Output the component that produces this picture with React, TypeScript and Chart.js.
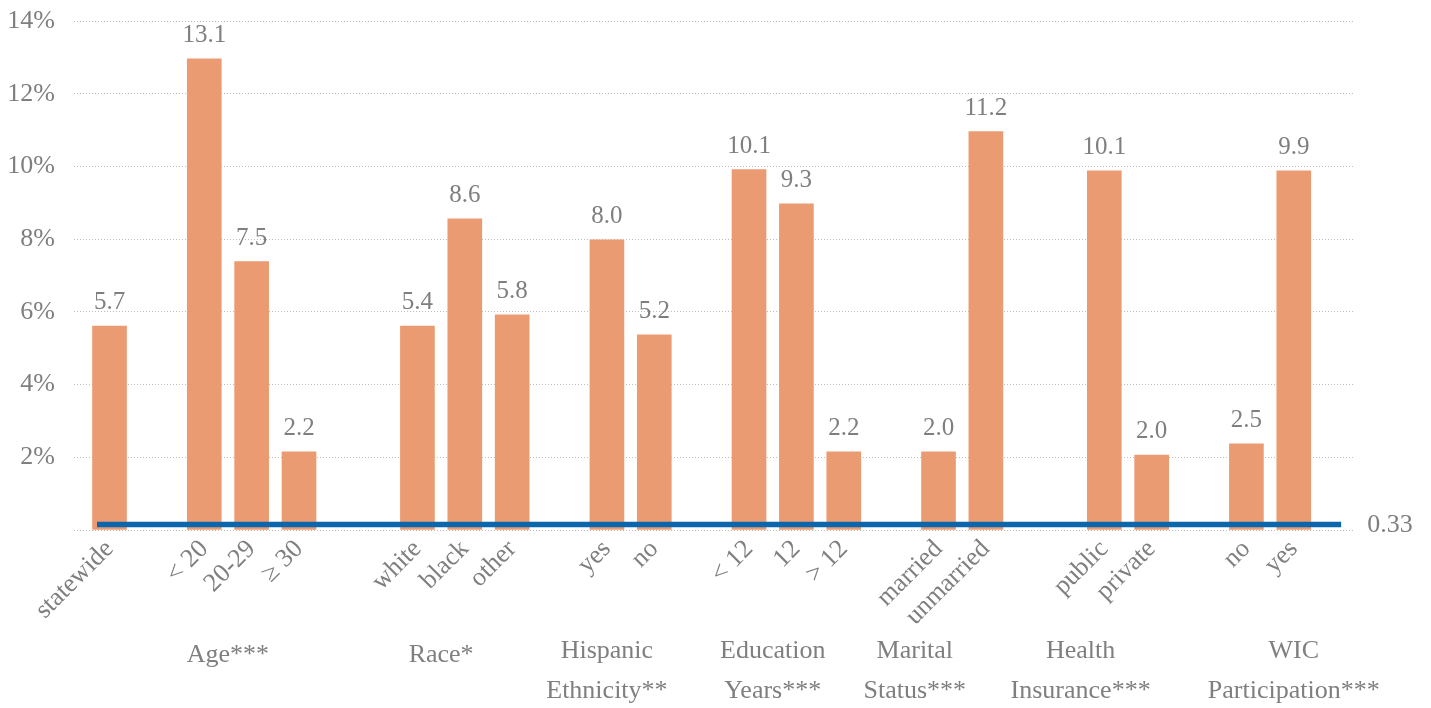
import React, { useEffect, useRef } from 'react';
import { Chart, registerables } from 'chart.js';

Chart.register(...registerables);

// Category slots (half-width slots; '' = spacer slot between groups)
const categories = [
  '', 'statewide', '', '', '',
  '< 20', '', '20-29', '', '≥ 30',
  '', '', '', '',
  'white', '', 'black', '', 'other',
  '', '', '',
  'yes', '', 'no',
  '', '', '',
  '< 12', '', '12', '', '> 12',
  '', '', '',
  'married', '', 'unmarried',
  '', '', '', '',
  'public', '', 'private',
  '', '', '',
  'no', '', 'yes',
  '', '',
];

// Second-level (group) labels, aligned with the category slots
const groupLabels = [
  '', '', '', '', '',
  '', 'Age***', '', '', '',
  '', '', '', '',
  '', 'Race*', '', '', '',
  '', '', '',
  'Hispanic\nEthnicity**', '', '',
  '', '', '',
  '', 'Education\nYears***', '', '', '',
  '', '', 'Marital\nStatus***',
  '', '', '',
  '', '', '', 'Health\nInsurance***',
  '', '', '',
  '', '', '',
  '', '', 'WIC\nParticipation***',
  '', '',
];

// Bar values (%) as drawn, in order of the non-empty categories
const barValues = [5.61, 12.96, 7.38, 2.15, 5.61, 8.56, 5.92, 7.98, 5.37, 9.91, 8.97, 2.15, 2.15, 10.96, 9.88, 2.06, 2.37, 9.88];
// Printed data labels
const valueLabels = ['5.7', '13.1', '7.5', '2.2', '5.4', '8.6', '5.8', '8.0', '5.2', '10.1', '9.3', '2.2', '2.0', '11.2', '10.1', '2.0', '2.5', '9.9'];

// Reference line
const referenceValue = 0.15;
const referenceLabel = '0.33';

// Y-axis ticks
const yMin = 0;
const yMax = 14;
const yStep = 2;

const FONT = "'Liberation Serif', 'Times New Roman', serif";
const TEXT = '#7f7f7f';
const BAR = '#EB9B72';
const LINE = '#0B66AB';
const GRID = '#bdbdbd';

export default function App() {
  const ref = useRef<HTMLCanvasElement>(null);

  useEffect(() => {
    const canvas = ref.current;
    if (!canvas) return;

    let k = 0;
    const barData = categories.map((c) => (c ? barValues[k++] : null));
    let j = 0;
    const labelData = categories.map((c) => (c ? valueLabels[j++] : null));
    const lineData = categories.map(() => referenceValue);

    const annotations = {
      id: 'annotations',
      afterDatasetsDraw(chart: any) {
        const ctx = chart.ctx;
        const barMeta = chart.getDatasetMeta(1);
        ctx.save();
        ctx.fillStyle = TEXT;
        ctx.font = `25px ${FONT}`;
        ctx.textAlign = 'center';
        ctx.textBaseline = 'alphabetic';
        barMeta.data.forEach((el: any, i: number) => {
          const t = labelData[i];
          if (!t) return;
          ctx.fillText(t, el.x, el.y - 17);
        });

        // reference line label
        const lineMeta = chart.getDatasetMeta(0);
        const last = lineMeta.data[lineMeta.data.length - 1];
        ctx.font = `26px ${FONT}`;
        ctx.textAlign = 'left';
        ctx.textBaseline = 'middle';
        ctx.fillText(referenceLabel, last.x + 26, last.y + 1);

        // group labels
        const xs = chart.scales.x;
        const bottom = chart.chartArea.bottom;
        ctx.textAlign = 'center';
        ctx.textBaseline = 'alphabetic';
        groupLabels.forEach((g, i) => {
          if (!g) return;
          const lines = g.split('\n');
          const x = xs.getPixelForValue(i);
          const base = lines.length === 1 ? bottom + 132 : bottom + 128;
          lines.forEach((ln, li) => ctx.fillText(ln, x, base + li * 40));
        });
        ctx.restore();
      },
    };

    const chart = new Chart(canvas, {
      type: 'bar',
      data: {
        labels: categories,
        datasets: [
          {
            type: 'line',
            data: lineData,
            borderColor: LINE,
            backgroundColor: LINE,
            borderWidth: 5.5,
            pointRadius: 0,
            pointHoverRadius: 0,
            borderCapStyle: 'butt',
            tension: 0,
            clip: { left: -23, top: false, right: false, bottom: false },
            order: 0,
          } as any,
          {
            type: 'bar',
            data: barData,
            backgroundColor: BAR,
            barThickness: 34,
            order: 1,
          } as any,
        ],
      },
      options: {
        responsive: false,
        animation: false,
        devicePixelRatio: 1,
        layout: { padding: { top: 21, right: 78, bottom: 0, left: 0 } },
        plugins: {
          legend: { display: false },
          tooltip: { enabled: false },
        },
        scales: {
          x: {
            grid: { display: false, drawTicks: false },
            border: { display: false },
            ticks: {
              autoSkip: false,
              maxRotation: 45,
              minRotation: 45,
              padding: 4,
              color: TEXT,
              font: { family: FONT, size: 26 },
            },
            afterFit: (s: any) => {
              s.height = 178;
            },
          },
          y: {
            min: yMin,
            max: yMax,
            grid: { color: GRID, lineWidth: 1, drawTicks: false },
            border: { display: false, dash: [1, 2] },
            ticks: {
              stepSize: yStep,
              padding: 19,
              color: TEXT,
              font: { family: FONT, size: 26, lineHeight: 0.05 },
              callback: (v: any) => (Number(v) === 0 ? '' : `${v}%`),
            },
            afterFit: (s: any) => {
              s.width = 74;
            },
          },
        },
      },
      plugins: [annotations],
    });

    return () => chart.destroy();
  }, []);

  return (
    <div style={{ position: 'fixed', left: 0, top: 0, width: 1431, height: 708, background: '#fff' }}>
      <canvas ref={ref} width={1431} height={708} style={{ width: 1431, height: 708 }} />
    </div>
  );
}
